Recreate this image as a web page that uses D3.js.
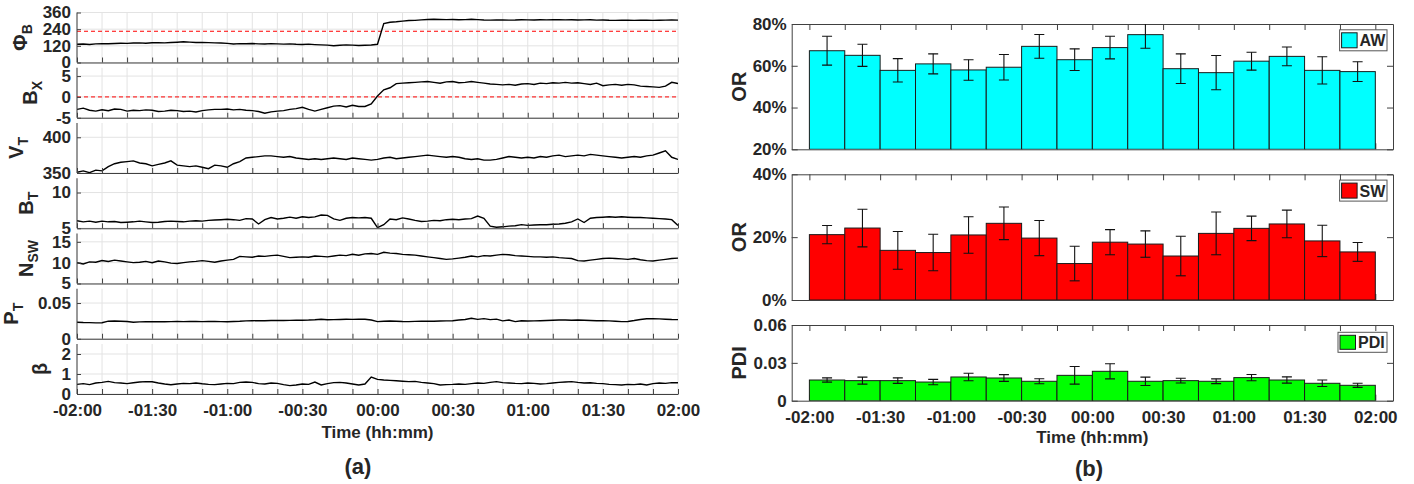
<!DOCTYPE html>
<html><head><meta charset="utf-8">
<script src="https://cdn.jsdelivr.net/npm/d3@7"></script>
<style>
body{margin:0;background:#fff}
svg{display:block}
text{font-family:"Liberation Sans",Arial,Helvetica,sans-serif;font-weight:bold;fill:#262626}
</style>
</head><body>
<svg id="chart" width="1414" height="484"></svg>
<script>
// ---------------- DATA ----------------
// Left: solar-wind time series sampled every 2.5 min from -120 to +120 min (97 samples)
const sampleStepMin = 2.5;
const phiB = [
 131,133,130,134,136,135,137,139,138,140,141,139,
 142,143,141,144,146,149,147,144,145,143,141,140,
 138,133,136,135,137,134,133,136,134,132,134,131,
 130,132,129,127,125,121,124,127,125,122,124,126,
 131,280,290,293,298,302,303,307,310,311,310,309,
 310,308,309,311,309,306,305,307,306,305,306,308,
 307,306,308,307,309,308,307,308,306,307,308,305,
 306,304,303,305,304,303,305,304,303,304,305,306,
 305];
const bX = [
 -3.0,-2.7,-3.2,-3.4,-3.1,-3.3,-2.9,-3.0,-3.4,-3.2,-3.3,-3.1,
 -3.2,-3.5,-3.4,-3.2,-3.3,-3.5,-3.4,-3.6,-3.3,-3.1,-3.0,-3.0,
 -2.9,-3.1,-3.0,-3.2,-3.3,-3.5,-3.9,-3.6,-3.4,-3.3,-3.0,-2.8,
 -2.5,-3.0,-3.4,-3.0,-2.6,-2.2,-2.1,-2.4,-2.0,-2.3,-2.3,-1.7,
 0.2,1.7,2.2,3.2,3.3,3.4,3.5,3.6,3.7,3.5,3.3,3.6,
 3.7,3.4,3.5,3.7,3.5,3.3,3.1,3.0,2.9,3.0,2.8,3.1,
 3.2,3.0,3.3,3.2,3.4,3.3,3.5,3.3,3.4,3.2,3.0,3.3,
 2.7,2.9,3.0,2.8,3.0,2.9,2.6,2.5,2.4,2.3,2.6,3.5,
 3.2];
const vT = [
 351,353,350.5,354,353,359,363,365,366,367,364,363,
 360,362,364,367,361,360,359,360,358,356,361,360,
 358,363,366,371,372,373,374,374,373,372,373,371,
 370,369,370,369,370,371,370,369,371,370,369,368,
 369,371,372,370,371,372,373,374,375,374,373,372,
 373,372,370,369,370,368,368,369,371,373,372,371,
 372,371,373,372,374,375,373,374,375,374,376,375,
 374,373,372,371,372,373,372,374,375,378,381,372,
 369];
const bT = [
 6.05,5.9,6.0,5.85,6.0,5.9,5.95,5.8,5.85,5.9,6.0,5.9,
 5.8,5.85,5.95,6.0,5.95,5.9,6.0,6.05,6.0,6.1,6.15,6.2,
 6.25,6.2,6.1,6.35,6.3,5.6,6.2,6.5,6.3,6.4,6.55,6.4,
 6.6,6.5,6.6,6.85,6.8,6.3,6.1,6.4,6.5,6.45,6.5,6.4,
 5.1,5.5,6.3,6.2,6.45,6.3,6.1,5.95,6.0,6.1,6.05,6.2,
 6.25,6.2,6.3,6.35,6.7,6.4,5.3,5.15,5.2,5.3,5.35,5.5,
 5.4,5.45,5.5,5.5,5.55,5.6,5.7,5.9,6.3,5.8,6.4,6.5,
 6.55,6.6,6.55,6.6,6.55,6.5,6.5,6.45,6.4,6.35,6.3,6.2,
 5.4];
const nSW = [
 10.0,9.7,10.2,10.1,10.5,10.3,10.6,10.4,10.2,10.0,10.1,10.3,
 10.0,10.4,10.2,9.9,9.8,10.0,10.2,10.3,10.5,10.3,10.1,10.4,
 10.6,10.8,11.5,11.4,11.3,11.6,11.5,11.7,11.8,11.5,11.2,11.3,
 11.4,11.3,11.6,11.5,11.4,11.6,11.8,11.7,12.0,11.8,12.1,12.2,
 12.0,12.5,12.3,12.2,12.0,11.9,11.8,11.6,11.4,11.2,11.0,10.8,
 10.9,11.1,11.3,11.6,11.4,11.7,11.6,11.8,12.0,11.9,11.7,11.6,
 11.5,11.4,11.4,11.3,11.4,11.2,11.1,11.0,10.5,10.4,10.6,10.8,
 11.0,11.1,11.0,10.9,10.8,11.0,10.7,10.5,10.4,10.6,10.8,11.0,
 11.1];
const pT = [
 0.0232,0.0228,0.0226,0.0222,0.0224,0.0246,0.0248,0.0245,0.0242,0.0232,0.0236,0.0238,
 0.0237,0.0239,0.0238,0.0240,0.0241,0.0240,0.0242,0.0241,0.0240,0.0242,0.0241,0.0240,
 0.0239,0.0241,0.0244,0.0250,0.0252,0.0254,0.0253,0.0255,0.0256,0.0255,0.0257,0.0258,
 0.0260,0.0262,0.0266,0.0272,0.0265,0.0268,0.0270,0.0272,0.0271,0.0273,0.0272,0.0262,
 0.0240,0.0244,0.0248,0.0246,0.0242,0.0240,0.0243,0.0245,0.0244,0.0246,0.0248,0.0250,
 0.0252,0.0262,0.0270,0.0286,0.0272,0.0282,0.0268,0.0275,0.0250,0.0262,0.0240,0.0252,
 0.0248,0.0250,0.0252,0.0255,0.0258,0.0262,0.0263,0.0260,0.0262,0.0258,0.0255,0.0252,
 0.0252,0.0250,0.0245,0.0240,0.0242,0.0255,0.0270,0.0280,0.0282,0.0278,0.0274,0.0270,
 0.0268];
const beta = [
 0.48,0.52,0.47,0.55,0.58,0.63,0.57,0.55,0.52,0.56,0.60,0.62,
 0.61,0.55,0.50,0.46,0.50,0.53,0.52,0.55,0.51,0.48,0.47,0.50,
 0.53,0.52,0.58,0.60,0.58,0.52,0.50,0.55,0.53,0.47,0.42,0.45,
 0.50,0.48,0.60,0.45,0.52,0.57,0.58,0.55,0.50,0.45,0.50,0.85,
 0.73,0.70,0.68,0.66,0.64,0.62,0.63,0.58,0.55,0.52,0.45,0.47,
 0.48,0.50,0.48,0.52,0.55,0.53,0.58,0.62,0.57,0.55,0.53,0.52,
 0.55,0.53,0.50,0.52,0.55,0.58,0.60,0.62,0.58,0.55,0.56,0.53,
 0.52,0.48,0.47,0.45,0.48,0.47,0.50,0.45,0.52,0.55,0.53,0.57,
 0.56];

// Right: 15-minute bins
const binStartMin = [-120,-105,-90,-75,-60,-45,-30,-15,0,15,30,45,60,75,90,105];
const binWidthMin = 15;
const orAW    = [67.2,65.0,57.8,60.9,58.0,59.3,69.3,62.9,68.7,74.9,58.6,56.7,62.2,64.5,57.8,57.2];
const orAWErr = [6.9,5.3,5.6,4.8,4.9,6.1,5.7,5.2,5.4,6.5,7.1,8.2,4.3,4.5,6.5,4.7];
const orSW    = [20.8,22.9,15.8,15.1,20.7,24.4,19.7,11.6,18.4,17.8,14.0,21.2,22.8,24.2,18.8,15.3];
const orSWErr = [2.9,6.0,6.0,5.8,5.8,5.2,5.6,5.5,4.0,4.2,6.3,6.8,3.9,4.4,5.0,3.0];
const pdi     = [0.0164,0.0159,0.0159,0.0148,0.0188,0.0180,0.0154,0.0201,0.0233,0.0154,0.0159,0.0154,0.0183,0.0164,0.0138,0.0122];
const pdiErr  = [0.0017,0.0028,0.0022,0.0021,0.0030,0.0027,0.0020,0.0070,0.0060,0.0033,0.0019,0.0019,0.0025,0.0025,0.0026,0.0016];

// Tick labels
const timeTickValues = [-120,-90,-60,-30,0,30,60,90,120];
const timeTickLabels = ["-02:00","-01:30","-01:00","-00:30","00:00","00:30","01:00","01:30","02:00"];

// ---------------- DRAW ----------------
const svg = d3.select("#chart");
const AX = "#404040", GRID = "#e3e3e3";
const times = phiB.map((_, i) => -120 + i * sampleStepMin);
const labelOf = v => { const k = timeTickValues.indexOf(v); return k >= 0 ? timeTickLabels[k] : ""; };

// ---- Left panels ----
const L = {x0: 77, x1: 678, top0: 12.5, step: 55.25, h: 50};
const xL = d3.scaleLinear().domain([-120, 120]).range([L.x0, L.x1]);
const leftPanels = [
  {values: phiB, domain: [0, 360], ticks: [0,120,240,360], main: "Φ", sub: "B", ref: 225},
  {values: bX,   domain: [-5, 7],  ticks: [-5,0,5],        main: "B", sub: "X", ref: 0},
  {values: vT,   domain: [350, 420], ticks: [350,400],     main: "V", sub: "T"},
  {values: bT,   domain: [5, 12],  ticks: [5,10],          main: "B", sub: "T"},
  {values: nSW,  domain: [5, 17],  ticks: [5,10,15],       main: "N", sub: "SW"},
  {values: pT,   domain: [0, 0.07], ticks: [0,0.05],       main: "P", sub: "T"},
  {values: beta, domain: [0, 2.5], ticks: [0,1,2],         main: "β", sub: ""}
];
const leftLabelX = [26.5, 37, 22.5, 33, 33, 18, 47];
const minorTimeTicks = d3.range(-120, 121, 10);

leftPanels.forEach((p, i) => {
  const top = L.top0 + i * L.step, bot = top + L.h;
  const y = d3.scaleLinear().domain(p.domain).range([bot, top]);
  const g = svg.append("g");
  // grid
  g.selectAll(".vg").data(minorTimeTicks).join("line")
    .attr("x1", d => xL(d)).attr("x2", d => xL(d)).attr("y1", top).attr("y2", bot)
    .attr("stroke", GRID).attr("stroke-width", 1);
  g.selectAll(".hg").data(p.ticks).join("line")
    .attr("x1", L.x0).attr("x2", L.x1).attr("y1", d => y(d)).attr("y2", d => y(d))
    .attr("stroke", GRID).attr("stroke-width", 1);
  // clip
  const cid = "clipL" + i;
  svg.append("clipPath").attr("id", cid).append("rect")
    .attr("x", L.x0).attr("y", top).attr("width", L.x1 - L.x0).attr("height", L.h);
  // reference line
  if (p.ref !== undefined) {
    g.append("line").attr("x1", L.x0).attr("x2", L.x1).attr("y1", y(p.ref)).attr("y2", y(p.ref))
      .attr("stroke", "#ff0000").attr("stroke-width", 1).attr("stroke-dasharray", "4,3");
  }
  // series
  g.append("path").datum(p.values)
    .attr("clip-path", `url(#${cid})`)
    .attr("fill", "none").attr("stroke", "#000").attr("stroke-width", 1.4)
    .attr("d", d3.line().x((d, k) => xL(times[k])).y(d => y(d)));
  // y axis
  const ya = g.append("g").attr("transform", `translate(${L.x0},0)`)
    .call(d3.axisLeft(y).tickValues(p.ticks).tickSize(-4).tickSizeOuter(0).tickPadding(6).tickFormat(d => String(d)));
  ya.select(".domain").attr("stroke", AX).attr("d", `M0,${top}V${bot}`);
  ya.selectAll(".tick line").attr("stroke", AX);
  ya.selectAll("text").attr("font-size", 17).attr("fill", "#262626")
    .attr("font-family", '"Liberation Sans",Arial,sans-serif').attr("font-weight", "bold");
  // x axis
  const last = i === leftPanels.length - 1;
  const xa = g.append("g").attr("transform", `translate(0,${bot})`)
    .call(d3.axisBottom(xL).tickValues(minorTimeTicks).tickSize(-5).tickSizeOuter(0).tickPadding(10)
      .tickFormat(d => last ? labelOf(d) : ""));
  xa.select(".domain").attr("stroke", AX);
  xa.selectAll(".tick line").attr("stroke", AX);
  xa.selectAll("text").attr("font-size", 17).attr("fill", "#262626")
    .attr("font-family", '"Liberation Sans",Arial,sans-serif').attr("font-weight", "bold");
  // y label
  const t = svg.append("text")
    .attr("transform", `translate(${leftLabelX[i]},${(top + bot) / 2}) rotate(-90)`)
    .attr("text-anchor", "middle").attr("font-size", 20).attr("fill", "#262626");
  t.append("tspan").text(p.main);
  if (p.sub) t.append("tspan").attr("dy", 5).attr("font-size", 14).text(p.sub);
});

svg.append("text").attr("x", (L.x0 + L.x1) / 2).attr("y", 437.5).attr("text-anchor", "middle")
  .attr("font-size", 17).text("Time (hh:mm)");
svg.append("text").attr("x", 358).attr("y", 474).attr("text-anchor", "middle")
  .attr("font-size", 22).text("(a)");

// ---- Right panels ----
const R = {x0: 791.7, x1: 1393};
const xR = d3.scaleLinear().domain([-127.5, 127.5]).range([R.x0, R.x1]);
const pct = d => d + "%";
const rightPanels = [
  {values: orAW, err: orAWErr, domain: [20, 80], ticks: [20,40,60,80], fmt: pct, color: "#00ffff", legend: "AW", ylabel: "OR"},
  {values: orSW, err: orSWErr, domain: [0, 40],  ticks: [0,20,40],     fmt: pct, color: "#ff0000", legend: "SW", ylabel: "OR"},
  {values: pdi,  err: pdiErr,  domain: [0, 0.06], ticks: [0,0.03,0.06], fmt: d => d === 0 ? "0" : d.toFixed(2), color: "#00ff00", legend: "PDI", ylabel: "PDI"}
];
const rightBoxes = [[24, 149.3], [174.3, 300], [325, 400.7]];
const quarterTicks = d3.range(-120, 121, 15);

rightPanels.forEach((p, i) => {
  const [top, bot] = rightBoxes[i];
  const y = d3.scaleLinear().domain(p.domain).range([bot, top]);
  const g = svg.append("g");
  const styleAxis = a => {
    a.select(".domain").attr("stroke", AX);
    a.selectAll(".tick line").attr("stroke", AX);
    a.selectAll("text").attr("font-size", 17).attr("fill", "#262626")
      .attr("font-family", '"Liberation Sans",Arial,sans-serif').attr("font-weight", "bold");
  };
  const last = i === rightPanels.length - 1;
  styleAxis(g.append("g").attr("transform", `translate(0,${bot})`)
    .call(d3.axisBottom(xR).tickValues(quarterTicks).tickSize(-6).tickSizeOuter(0).tickPadding(10)
      .tickFormat(d => last ? labelOf(d) : "")));
  styleAxis(g.append("g").attr("transform", `translate(0,${top})`)
    .call(d3.axisTop(xR).tickValues(quarterTicks).tickSize(-6).tickSizeOuter(0).tickFormat("")));
  styleAxis(g.append("g").attr("transform", `translate(${R.x0},0)`)
    .call(d3.axisLeft(y).tickValues(p.ticks).tickSize(-6).tickSizeOuter(0).tickPadding(5).tickFormat(p.fmt)));
  styleAxis(g.append("g").attr("transform", `translate(${R.x1},0)`)
    .call(d3.axisRight(y).tickValues(p.ticks).tickSize(-6).tickSizeOuter(0).tickFormat("")));

  const cid = "clipR" + i;
  svg.append("clipPath").attr("id", cid).append("rect")
    .attr("x", R.x0).attr("y", top).attr("width", R.x1 - R.x0).attr("height", bot - top);
  const gb = svg.append("g").attr("clip-path", `url(#${cid})`);
  gb.selectAll("rect").data(p.values).join("rect")
    .attr("x", (d, k) => xR(binStartMin[k]))
    .attr("width", (d, k) => xR(binStartMin[k] + binWidthMin) - xR(binStartMin[k]))
    .attr("y", d => y(d)).attr("height", d => y(p.domain[0]) - y(d))
    .attr("fill", p.color).attr("stroke", "#1a1a1a").attr("stroke-width", 1);
  const cx = k => xR(binStartMin[k] + binWidthMin / 2);
  const eb = gb.selectAll(".eb").data(p.values).join("g").attr("stroke", "#111").attr("stroke-width", 1.1);
  eb.append("line").attr("x1", (d, k) => cx(k)).attr("x2", (d, k) => cx(k))
    .attr("y1", (d, k) => y(d + p.err[k])).attr("y2", (d, k) => y(d - p.err[k]));
  eb.append("line").attr("x1", (d, k) => cx(k) - 5).attr("x2", (d, k) => cx(k) + 5)
    .attr("y1", (d, k) => y(d + p.err[k])).attr("y2", (d, k) => y(d + p.err[k]));
  eb.append("line").attr("x1", (d, k) => cx(k) - 5).attr("x2", (d, k) => cx(k) + 5)
    .attr("y1", (d, k) => y(d - p.err[k])).attr("y2", (d, k) => y(d - p.err[k]));

  // legend
  const lw = p.legend.length > 2 ? 49 : 47.4, lh = i === 2 ? 20 : 21;
  const lx = R.x1 - 6 - lw, ly = top + (i === 2 ? 7.3 : 5.8);
  svg.append("rect").attr("x", lx).attr("y", ly).attr("width", lw).attr("height", lh)
    .attr("fill", "#fff").attr("stroke", "#555").attr("stroke-width", 1);
  svg.append("rect").attr("x", lx + 2).attr("y", ly + 3).attr("width", 15.5).attr("height", lh - 6)
    .attr("fill", p.color).attr("stroke", "#1a1a1a").attr("stroke-width", 1);
  svg.append("text").attr("x", lx + 20).attr("y", ly + lh / 2 + 6).attr("font-size", 16)
    .attr("fill", "#000").text(p.legend);

  svg.append("text").attr("transform", `translate(746,${(top + bot) / 2}) rotate(-90)`)
    .attr("text-anchor", "middle").attr("font-size", 20).text(p.ylabel);
});

svg.append("text").attr("x", (R.x0 + R.x1) / 2).attr("y", 443).attr("text-anchor", "middle")
  .attr("font-size", 17).text("Time (hh:mm)");
svg.append("text").attr("x", 1089).attr("y", 476).attr("text-anchor", "middle")
  .attr("font-size", 22).text("(b)");
</script>
</body></html>
